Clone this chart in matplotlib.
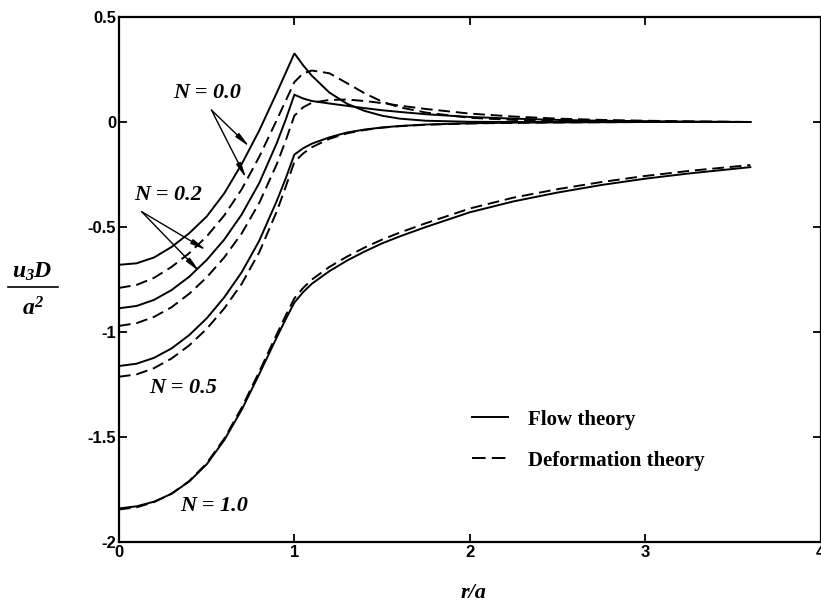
import matplotlib
matplotlib.use("Agg")
import matplotlib.pyplot as plt
from matplotlib.lines import Line2D

plt.rcParams['mathtext.fontset'] = 'custom'
plt.rcParams['mathtext.it'] = 'Liberation Serif:bold:italic'
plt.rcParams['mathtext.rm'] = 'Liberation Serif:bold:italic'
plt.rcParams['mathtext.bf'] = 'Liberation Serif:bold:italic'

# ---------------- data ----------------
r_a = [0, 0.1, 0.2, 0.3, 0.4, 0.5, 0.6, 0.7, 0.8, 0.9, 0.95, 1.0, 1.05, 1.1, 1.2,
       1.3, 1.4, 1.5, 1.6, 1.75, 2.0, 2.25, 2.5, 2.75, 3.0, 3.25, 3.6]

flow_N00 = [-0.680, -0.673, -0.645, -0.595, -0.530, -0.450, -0.340, -0.200, -0.040, 0.140,
            0.233, 0.327, 0.270, 0.220, 0.140, 0.087, 0.053, 0.030, 0.016, 0.006, 0.001,
            0.0, 0.0, 0.0, 0.0, 0.0, 0.0]
def_N00 = [-0.790, -0.776, -0.742, -0.690, -0.625, -0.545, -0.445, -0.320, -0.165, 0.010,
           0.100, 0.190, 0.232, 0.245, 0.232, 0.185, 0.137, 0.097, 0.070, 0.045, 0.020,
           0.010, 0.006, 0.004, 0.002, 0.001, 0.0]
flow_N02 = [-0.887, -0.876, -0.847, -0.800, -0.737, -0.657, -0.560, -0.440, -0.290, -0.100,
            0.010, 0.130, 0.112, 0.100, 0.088, 0.077, 0.066, 0.056, 0.048, 0.037, 0.024,
            0.016, 0.010, 0.006, 0.004, 0.002, 0.0]
def_N02 = [-0.971, -0.958, -0.928, -0.882, -0.818, -0.740, -0.645, -0.530, -0.385, -0.200,
           -0.090, 0.030, 0.070, 0.092, 0.105, 0.107, 0.100, 0.090, 0.078, 0.062, 0.040,
           0.026, 0.016, 0.010, 0.006, 0.003, 0.0]
flow_N05 = [-1.162, -1.151, -1.123, -1.078, -1.015, -0.935, -0.835, -0.715, -0.565, -0.375,
            -0.270, -0.155, -0.125, -0.103, -0.073, -0.050, -0.036, -0.026, -0.019, -0.012,
            -0.006, -0.003, -0.002, -0.001, 0.0, 0.0, 0.0]
def_N05 = [-1.213, -1.202, -1.172, -1.126, -1.064, -0.985, -0.888, -0.770, -0.620, -0.425,
           -0.310, -0.190, -0.150, -0.120, -0.080, -0.054, -0.038, -0.027, -0.020, -0.013,
           -0.007, -0.004, -0.002, -0.001, 0.0, 0.0, 0.0]
flow_N10 = [-1.840, -1.830, -1.808, -1.770, -1.712, -1.630, -1.515, -1.370, -1.200, -1.025,
            -0.940, -0.860, -0.810, -0.770, -0.710, -0.660, -0.617, -0.578, -0.545, -0.500,
            -0.430, -0.378, -0.336, -0.300, -0.270, -0.245, -0.215]
def_N10 = [-1.845, -1.835, -1.810, -1.770, -1.710, -1.625, -1.508, -1.360, -1.188, -1.010,
           -0.922, -0.840, -0.790, -0.750, -0.690, -0.641, -0.598, -0.560, -0.527, -0.482,
           -0.412, -0.360, -0.320, -0.286, -0.257, -0.233, -0.205]

flow_series = [flow_N00, flow_N02, flow_N05, flow_N10]
def_series = [def_N00, def_N02, def_N05, def_N10]

x_ticks = [0, 1, 2, 3, 4]
x_ticklabels = ['0', '1', '2', '3', '4']
y_ticks = [0.5, 0, -0.5, -1, -1.5, -2]
y_ticklabels = ['0.5', '0', '-0.5', '-1', '-1.5', '-2']

legend_labels = ['Flow theory', 'Deformation theory']

# ---------------- figure ----------------
W, H = 821, 608
fig = plt.figure(figsize=(W / 100, H / 100), dpi=100)
ax = fig.add_axes([119 / W, 1 - 542 / H, (820.5 - 119) / W, 525 / H])

LW = 1.4
DASH = (6, 3)
for ys in flow_series:
    ax.plot(r_a, ys, color='black', lw=LW, solid_joinstyle='miter')
for ys in def_series:
    ax.plot(r_a, ys, color='black', lw=LW, dashes=DASH)

ax.set_xlim(0, 4)
ax.set_ylim(-2, 0.5)
ax.set_xticks(x_ticks)
ax.set_yticks(y_ticks)
tick_font = dict(family='Liberation Sans', weight='bold', size=12)
ax.set_xticklabels(x_ticklabels, fontdict=tick_font)
ax.set_yticklabels(y_ticklabels, fontdict=tick_font)
ax.tick_params(direction='in', length=6, width=1.3, top=True, right=True, pad=2)
for s in ax.spines.values():
    s.set_linewidth(1.6)

lab_font = dict(family='Liberation Serif', weight='bold', style='italic', size=16)

# curve labels with arrows
arrow_kw = dict(arrowstyle='-|>,head_length=0.9,head_width=0.15', color='black', lw=1.0,
                shrinkA=0, shrinkB=0)
ax.text(0.50, 0.14, 'N = 0.0', ha='center', va='center', **lab_font)
ax.annotate('', xy=(0.744, -0.118), xytext=(0.527, 0.057), arrowprops=arrow_kw)
ax.annotate('', xy=(0.725, -0.268), xytext=(0.527, 0.057), arrowprops=arrow_kw)

ax.text(0.28, -0.35, 'N = 0.2', ha='center', va='center', **lab_font)
ax.annotate('', xy=(0.498, -0.610), xytext=(0.129, -0.427), arrowprops=arrow_kw)
ax.annotate('', xy=(0.460, -0.713), xytext=(0.129, -0.427), arrowprops=arrow_kw)

ax.text(0.365, -1.266, 'N = 0.5', ha='center', va='center', **lab_font)
ax.text(0.54, -1.829, 'N = 1.0', ha='center', va='center', **lab_font)

# legend
leg_handles = [Line2D([], [], color='black', lw=LW),
               Line2D([], [], color='black', lw=LW, dashes=(7, 3.2))]
leg = ax.legend(leg_handles, legend_labels, loc='upper left',
                bbox_to_anchor=(0.503, 0.252), frameon=False, handlelength=1.75,
                handletextpad=0.95, labelspacing=1.0, borderpad=0, borderaxespad=0,
                prop=dict(family='Liberation Serif', weight='bold', size=15))

# axis labels
fig.text(473 / W, 1 - 593 / H, 'r/a', ha='center', va='center', **lab_font)
fig.text(32 / W, 1 - 271 / H, r'$u_3D$', ha='center', va='center', fontsize=17)
fig.text(33 / W, 1 - 308 / H, r'$a^2$', ha='center', va='center', fontsize=17)
fig.add_artist(Line2D([8 / W, 58 / W], [1 - 287 / H, 1 - 287 / H], color='black', lw=1.2))

fig.savefig('out.png', dpi=100)
